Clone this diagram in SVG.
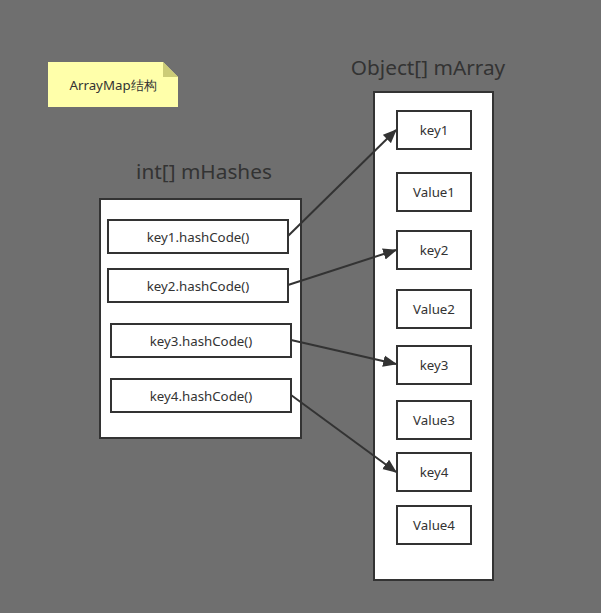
<svg xmlns="http://www.w3.org/2000/svg" width="601" height="613" viewBox="0 0 601 613">
  <style>
    .title { font-family: "Noto Sans", "Open Sans", sans-serif; font-size: 20.8px; fill: #333333; text-anchor: middle; }
    .lbl { font-family: "Noto Sans", "Open Sans", sans-serif; font-size: 13.3px; fill: #333333; text-anchor: middle; dominant-baseline: central; }
    .cont { fill: #ffffff; stroke: #333333; stroke-width: 2; }
    .cell { fill: #ffffff; stroke: #333333; stroke-width: 2; }
    .conn { stroke: #333333; stroke-width: 2; fill: none; marker-end: url(#arrow); }
  </style>
  <defs>
    <marker id="arrow" viewBox="0 0 12 10" refX="11" refY="5" markerWidth="7" markerHeight="6" orient="auto" markerUnits="strokeWidth">
      <path d="M0,0 L12,5 L0,10 Z" fill="#333333"/>
    </marker>
  </defs>
  <rect width="601" height="613" fill="#6f6f6f"/>

  <!-- note -->
  <g id="note">
    <path d="M48,62 H163 L178,77 V107 H48 Z" fill="#ffffaa"/>
    <path d="M163,62 L178,77 H163 Z" fill="#cccc77"/>
    <text class="lbl" x="113" y="85" font-family="Noto Sans, Noto Sans CJK SC, sans-serif">ArrayMap结构</text>
  </g>

  <!-- hashes array -->
  <g id="mHashes">
    <text class="title" x="204" y="179">int[] mHashes</text>
    <rect class="cont" x="100" y="199" width="201" height="239"/>
  </g>
  <g id="hash1"><rect class="cell" x="108" y="220" width="180" height="33"/><text class="lbl" x="198" y="236.5">key1.hashCode()</text></g>
  <g id="hash2"><rect class="cell" x="108" y="269" width="180" height="33"/><text class="lbl" x="198" y="285.5">key2.hashCode()</text></g>
  <g id="hash3"><rect class="cell" x="111" y="324" width="180" height="33"/><text class="lbl" x="201" y="340.5">key3.hashCode()</text></g>
  <g id="hash4"><rect class="cell" x="111" y="379" width="180" height="33"/><text class="lbl" x="201" y="395.5">key4.hashCode()</text></g>

  <!-- object array -->
  <g id="mArray">
    <text class="title" x="428" y="75">Object[] mArray</text>
    <rect class="cont" x="374" y="92" width="119" height="488"/>
  </g>
  <g id="key1"><rect class="cell" x="397" y="111" width="74" height="38"/><text class="lbl" x="434" y="130">key1</text></g>
  <g id="value1"><rect class="cell" x="397" y="173" width="74" height="38"/><text class="lbl" x="434" y="192">Value1</text></g>
  <g id="key2"><rect class="cell" x="397" y="231" width="74" height="38"/><text class="lbl" x="434" y="250">key2</text></g>
  <g id="value2"><rect class="cell" x="397" y="290" width="74" height="38"/><text class="lbl" x="434" y="309">Value2</text></g>
  <g id="key3"><rect class="cell" x="397" y="346" width="74" height="38"/><text class="lbl" x="434" y="365">key3</text></g>
  <g id="value3"><rect class="cell" x="397" y="401" width="74" height="38"/><text class="lbl" x="434" y="420">Value3</text></g>
  <g id="key4"><rect class="cell" x="397" y="453" width="74" height="38"/><text class="lbl" x="434" y="472">key4</text></g>
  <g id="value4"><rect class="cell" x="397" y="506" width="74" height="38"/><text class="lbl" x="434" y="525">Value4</text></g>

  <!-- connectors -->
  <g id="connectors">
    <line class="conn" x1="288" y1="236" x2="396" y2="130"/>
    <line class="conn" x1="288" y1="285" x2="396" y2="250"/>
    <line class="conn" x1="291" y1="340" x2="396" y2="364"/>
    <line class="conn" x1="291" y1="395" x2="396" y2="472"/>
  </g>
</svg>
